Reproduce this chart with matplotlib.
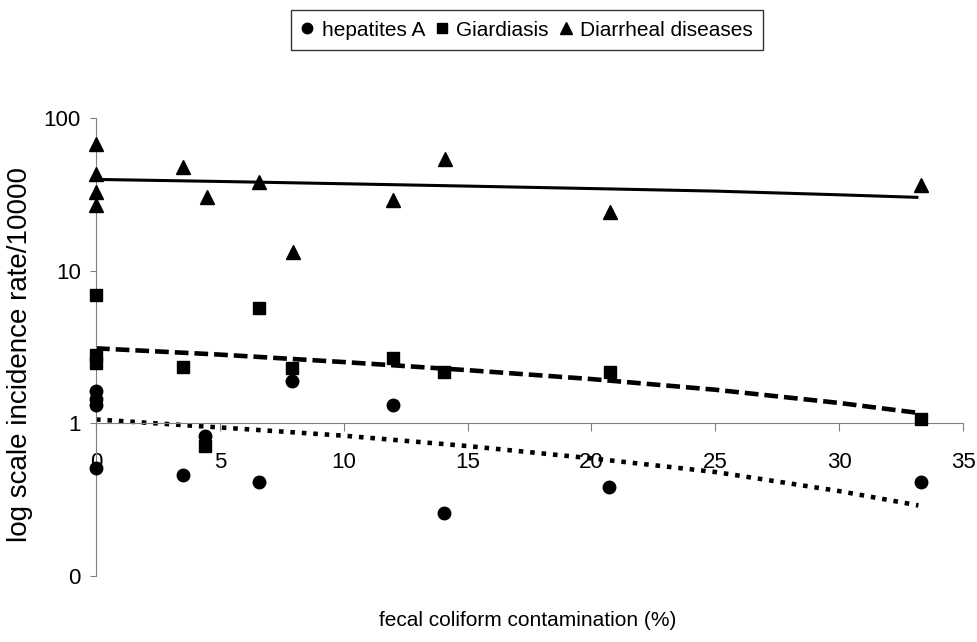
import matplotlib
matplotlib.use("Agg")
import matplotlib.pyplot as plt
from matplotlib.lines import Line2D
from matplotlib.ticker import FixedLocator, FixedFormatter, NullLocator

plt.rcParams['font.family'] = ['Liberation Sans', 'DejaVu Sans']

# data
hep_x = [0, 0, 0, 0, 3.5, 4.4, 6.6, 7.9, 12.0, 14.05, 20.7, 33.3]
hep_y = [1.62, 1.45, 1.31, 0.51, 0.46, 0.82, 0.41, 1.9, 1.31, 0.26, 0.38, 0.41]

giard_x = [0, 0, 0, 3.5, 4.4, 6.6, 7.9, 12.0, 14.05, 20.75, 33.3]
giard_y = [6.9, 2.79, 2.47, 2.33, 0.71, 5.66, 2.29, 2.67, 2.16, 2.16, 1.06]

diar_x = [0, 0, 0, 0, 3.5, 4.5, 6.6, 7.95, 12.0, 14.1, 20.75, 33.3]
diar_y = [68, 43, 32.6, 26.8, 47.5, 30.2, 37.9, 13.2, 28.9, 54, 24.1, 36.2]

# trend lines
trend_x = [0, 5, 10, 15, 20, 25, 30, 33.2]
diar_trend = [39.6, 38.4, 37.1, 35.8, 34.5, 33.2, 31.4, 30.2]
giard_trend = [3.1, 2.82, 2.52, 2.23, 1.95, 1.66, 1.36, 1.17]
hep_trend = [1.06, 0.94, 0.83, 0.71, 0.59, 0.48, 0.36, 0.29]

y_ticks = [0.1, 1, 10, 100]
y_labels = ['0', '1', '10', '100']
x_ticks = [0, 5, 10, 15, 20, 25, 30, 35]

fig = plt.figure(figsize=(9.78, 6.42), dpi=100)
ax = fig.add_axes([96 / 978, 1 - 576 / 642, 867 / 978, 458 / 642])

ax.set_yscale('log')
ax.set_xlim(0, 35)
ax.set_ylim(0.1, 100)

# trend lines
ax.plot(trend_x, diar_trend, color='black', lw=2.2, solid_capstyle='butt')
ax.plot(trend_x, giard_trend, color='black', lw=3.3, dashes=(3.0, 1.3))
ax.plot(trend_x, hep_trend, color='black', lw=3.3, dashes=(1, 1.5))

# points
ax.plot(hep_x, hep_y, 'o', color='black', ms=9, clip_on=False, zorder=5)
ax.plot(giard_x, giard_y, 's', color='black', ms=8, clip_on=False, zorder=5)
ax.plot(diar_x, diar_y, '^', color='black', ms=9.5, clip_on=False, zorder=5)

# axes styling
axis_col = '#808080'
for s in ['top', 'right']:
    ax.spines[s].set_visible(False)
ax.spines['bottom'].set_position(('data', 1))
ax.spines['left'].set_color(axis_col)
ax.spines['bottom'].set_color(axis_col)

ax.yaxis.set_major_locator(FixedLocator(y_ticks))
ax.yaxis.set_major_formatter(FixedFormatter(y_labels))
ax.yaxis.set_minor_locator(NullLocator())
ax.set_xticks(x_ticks)
ax.tick_params(axis='y', direction='out', length=4, color=axis_col, labelsize=16, pad=7)
ax.tick_params(axis='x', direction='out', length=6, color=axis_col, labelsize=16, pad=15)

fig.text(20 / 978, 1 - 355 / 642, 'log scale incidence rate/10000', rotation=90,
         ha='center', va='center', fontsize=20)
fig.text(528 / 978, 1 - 620 / 642, 'fecal coliform contamination (%)',
         ha='center', va='center', fontsize=15)

handles = [
    Line2D([], [], marker='o', ls='none', color='black', ms=7.5),
    Line2D([], [], marker='s', ls='none', color='black', ms=7),
    Line2D([], [], marker='^', ls='none', color='black', ms=8),
]
leg = fig.legend(handles, ['hepatites A', 'Giardiasis', 'Diarrheal diseases'],
                 loc='center', bbox_to_anchor=(527 / 978, 1 - 30 / 642), ncol=3,
                 fontsize=15, frameon=True, fancybox=False, handlelength=0.6,
                 handletextpad=0.4, columnspacing=0.5, borderpad=0.5)
leg.get_frame().set_edgecolor('black')
leg.get_frame().set_linewidth(1.0)

fig.savefig('out.png', dpi=100)
